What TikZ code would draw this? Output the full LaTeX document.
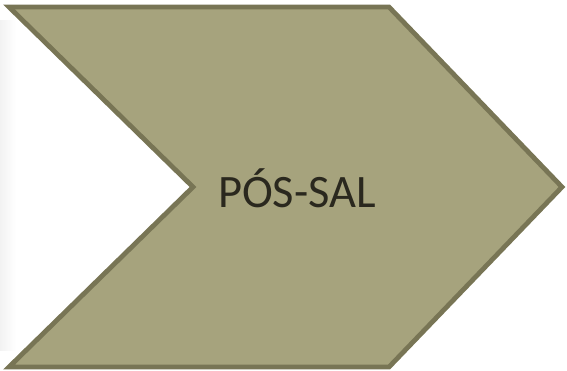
\documentclass[tikz,border=0pt]{standalone}
\usepackage{fontspec}
\setmainfont{Carlito}
\usepackage{tikz}
\usetikzlibrary{positioning}
\definecolor{olivefill}{RGB}{166,163,125}
\definecolor{oliveline}{RGB}{120,117,85}
\definecolor{labeltext}{RGB}{42,40,30}

\begin{document}
\begin{tikzpicture}[
  x=1pt,y=-1pt,
  chevron/.style={draw=oliveline,fill=olivefill,line width=4.8pt,line join=miter},
  lbl/.style={font=\fontsize{46.5}{50}\selectfont,text=labeltext}
]
\useasboundingbox (0,0) rectangle (567,370);
% faint shadow at the left edge
\shade[left color=black!5,right color=white] (0,20) rectangle (16,350);
\draw[chevron] (9,7) -- (389,7) -- (562,187) -- (389,367) -- (9,367) -- (193,187) -- cycle;
\node[lbl] (possal) at (297,188) {PÓS-SAL};
\end{tikzpicture}
\end{document}
